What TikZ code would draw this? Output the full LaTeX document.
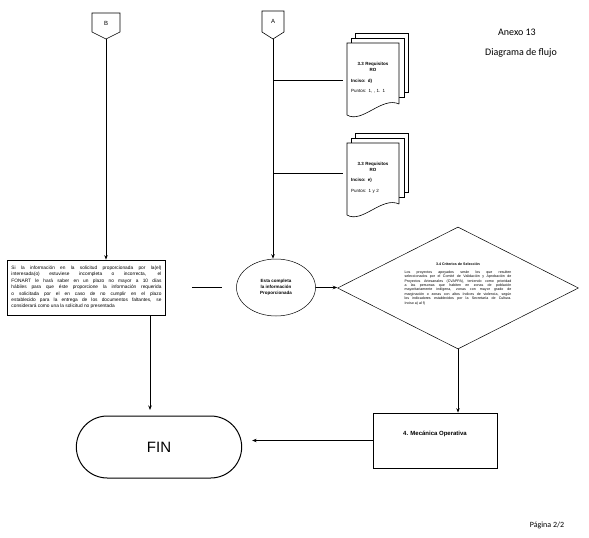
\documentclass[tikz,border=0pt]{standalone}
\usepackage{fontspec}
\setmainfont{Liberation Sans}
\newfontfamily\calibri{Carlito}
\usetikzlibrary{arrows.meta,shapes.geometric,shapes.misc}

\begin{document}
\begin{tikzpicture}[x=1pt,y=-1pt,
  linea/.style={line width=0.9pt},
  flecha/.style={line width=0.9pt,-{Stealth[length=4.5pt,width=3.5pt]}},
  caja/.style={draw,line width=0.7pt},
  hoja/.style={text width=44pt,inner sep=4pt,align=left,font=\fontsize{4.5}{5.6}\selectfont},
  conector/.style={line width=0.6pt}]
\useasboundingbox (0,0) rectangle (589,538);

% conectores de pagina
\draw[conector] (92,13) -- (120,13) -- (120,32) -- (106,39) -- (92,32) -- cycle;
\node[font=\fontsize{6}{7}\selectfont] (B) at (106,23) {B};
\coordinate (Bp) at (106,39);
\draw[conector] (262,11) -- (284,11) -- (284,32) -- (273,39) -- (262,32) -- cycle;
\node[font=\fontsize{6}{7}\selectfont] (A) at (273,21) {A};
\coordinate (Ap) at (273,39);

% encabezado
\node[font=\calibri\fontsize{10}{12}\selectfont] (anexo) at (517,32) {Anexo 13};
\node[font=\calibri\fontsize{10}{12}\selectfont] (titulo) at (521,53) {Diagrama de flujo};
\node[font=\calibri\fontsize{8}{10}\selectfont] (pagina) at (547,525) {Página 2/2};

% documentos
\foreach \y/\ly/\inc/\pun [count=\n] in {0/80/d)/{1, , 1. 1}, 100/173/e)/{1 y 2}} {
  \filldraw[fill=white,conector] (355,33+\y) rectangle (408,92+\y);
  \filldraw[fill=white,conector] (351,38+\y) rectangle (404,97+\y);
  \filldraw[fill=white,conector] (399,104+\y) -- (399,43+\y) -- (347,43+\y) -- (347,115+\y)
    .. controls (362,124+\y) and (382,96+\y) .. (399,104+\y);
  \node[hoja] (doc\n) at (373,78+\y) {{\centering\bfseries 3.3 Requisitos\\RO\par}\vspace{5pt}\textbf{Inciso: \inc}\par\vspace{5pt}Puntos: \pun};
  \coordinate (a\n) at (273,\ly);
  \draw[linea,shorten >=4pt] (a\n) -- (a\n -| doc\n.west);
}

% nodos
\node[caja,text width=150pt,align=justify,inner sep=4pt,minimum height=55pt,
  font=\fontsize{4.8}{6.4}\selectfont] (nota) at (86.5,287.5)
  {Si la información en la solicitud proporcionada por la(el)\linebreak
   interesada(o) estuviese incompleta o incorrecta, el\linebreak
   FONART le hará saber en un plazo no mayor a 10 días\linebreak
   hábiles para que éste proporcione la información requerida\linebreak
   o solicitada por el en caso de no cumplir en el plazo\linebreak
   establecido para la entrega de los documentos faltantes, se\linebreak
   considerará como una la solicitud no presentada};
\node[draw,ellipse,line width=0.5pt,minimum width=79pt,minimum height=57pt,align=center,
  font=\bfseries\fontsize{4.5}{5.8}\selectfont] (valida) at (276,287.5)
  {Esta completa\\la información\\Proporcionada};
\node[draw,diamond,aspect=2,line width=0.5pt,minimum width=241pt,minimum height=122pt,
  inner sep=0pt] (crit) at (458,288) {};
\node[text width=107pt,align=justify,inner sep=0pt,font=\fontsize{3.6}{4.4}\selectfont] (critTxt) at (458,284)
  {{\centering\bfseries 3.4 Criterios de Selección\par}\vspace{3pt}
   Los proyectos apoyados serán los que resulten\linebreak
   seleccionados por el Comité de Validación y Aprobación de\linebreak
   Proyectos Artesanales (CVAPPA), teniendo como prioridad\linebreak
   a las personas que habiten en zonas de población\linebreak
   mayoritariamente indígena, zonas con mayor grado de\linebreak
   marginación o zonas con altos índices de violencia, según\linebreak
   los indicadores establecidos por la Secretaría de Cultura.\linebreak
   Inciso a) al f)};
\node[caja,minimum width=124pt,minimum height=55pt,
  label={[font=\bfseries\fontsize{6}{7}\selectfont,anchor=north,yshift=-15pt]north:4. Mecánica Operativa}]
  (meca) at (435,440.5) {};
\node[draw,rounded rectangle,line width=1pt,minimum width=172pt,minimum height=62pt,
  font=\fontsize{15}{18}\selectfont] (fin) at (159,447) {FIN};
\coordinate (finIn) at (150,410);

% conexiones
\draw[flecha] (Bp) -- (Bp |- nota.north);
\draw[flecha] (Ap) -- (Ap |- valida.north);
\draw[line width=1.2pt,shorten <=26pt,shorten >=14pt] (nota.east) -- (nota.east -| valida.west);
\draw[flecha] (valida.east) -- (valida.east -| crit.west);
\draw[flecha] (crit.south) -- (crit.south |- meca.north);
\draw[flecha,shorten >=10pt] (meca.west) -- (meca.west -| fin.east);
\draw[flecha] (nota.south -| finIn) -- (finIn);
\end{tikzpicture}
\end{document}
